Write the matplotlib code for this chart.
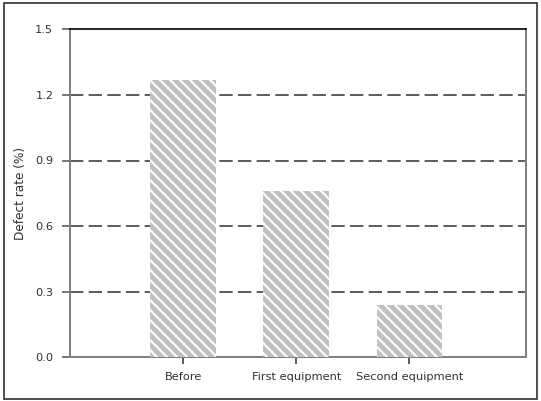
import matplotlib
matplotlib.use('Agg')
import matplotlib.pyplot as plt
from matplotlib.patches import Rectangle

categories = ['Before', 'First equipment', 'Second equipment']
defect_rate = [1.27, 0.76, 0.24]
yticks = [0.0, 0.3, 0.6, 0.9, 1.2, 1.5]

DPI = 120
plt.rcParams['font.family'] = ['DejaVu Sans']
plt.rcParams['hatch.linewidth'] = 1.25

fig = plt.figure(figsize=(541 / DPI, 401 / DPI), dpi=DPI)
ax = fig.add_axes([70 / 541, 1 - 357.3 / 401, 456 / 541, (357.3 - 29.3) / 401])

x = [1, 2, 3]
backslash = chr(92)
ax.bar(x, defect_rate, width=0.58, color='#c0c0c0', edgecolor='white',
       linewidth=0, hatch=backslash * 4, zorder=3)

# dashed gridlines
for y in yticks[1:-1]:
    ax.axhline(y, color='#404040', linewidth=1.0, dashes=(8, 3.2), zorder=1)

ax.set_xlim(0, 4.03)
ax.set_ylim(0, 1.5)
ax.set_yticks(yticks)
ax.set_yticklabels(['%.1f' % v for v in yticks])
ax.set_xticks(x)
ax.set_xticklabels(categories)

for s in ['left', 'bottom', 'right']:
    ax.spines[s].set_color('#808080')
    ax.spines[s].set_linewidth(1.2)
ax.spines['top'].set_color('black')
ax.spines['top'].set_linewidth(1.0)

ax.tick_params(axis='y', direction='out', length=5, width=1, color='#606060',
               labelsize=6.8, pad=5, labelcolor='#303030')
ax.tick_params(axis='x', direction='out', length=4, width=1, color='#404040',
               labelsize=6.8, pad=5, labelcolor='#303030')

ax.set_ylabel('Defect rate (%)', fontsize=7.3, color='#303030')
ax.yaxis.set_label_coords(-0.095, 0.5)

fig.patches.append(Rectangle((4 / 541, 2 / 401), 533 / 541, 396 / 401,
                             transform=fig.transFigure, fill=False,
                             edgecolor='#303030', linewidth=1.0))

fig.savefig('out.png', dpi=DPI)
